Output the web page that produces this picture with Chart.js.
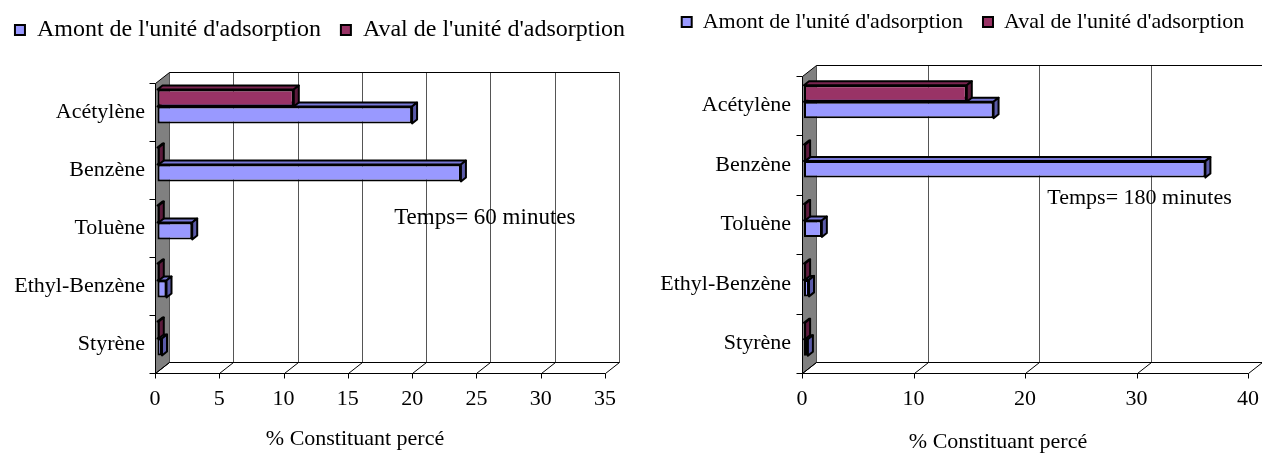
<!DOCTYPE html>
<html>
<head>
<meta charset="utf-8">
<script src="https://cdn.jsdelivr.net/npm/chart.js@4.4.0/dist/chart.umd.min.js"></script>
<style>
    html, body { margin: 0; padding: 0; background: #fff; }
    body { width: 1262px; height: 454px; position: relative; overflow: hidden; }
    .panel { position: absolute; top: 0; height: 454px; }
    #panel60 { left: -20px; width: 680px; }
    #panel180 { left: 636px; width: 654px; }
</style>
</head>
<body>
<div class="panel" id="panel60"><canvas id="chart60"></canvas></div>
<div class="panel" id="panel180"><canvas id="chart180"></canvas></div>
<script>
var categories = ["Acétylène", "Benzène", "Toluène", "Ethyl-Benzène", "Styrène"];
var seriesNames = ["Amont de l'unité d'adsorption", "Aval de l'unité d'adsorption"];

// % perce apres 60 minutes
var amont60 = [19.8, 23.6, 2.7, 0.7, 0.35];
var aval60 = [10.6, 0.1, 0.1, 0.1, 0.1];
var ticks60 = [0, 5, 10, 15, 20, 25, 30, 35];

// % perce apres 180 minutes
var amont180 = [17.0, 36.0, 1.6, 0.45, 0.35];
var aval180 = [14.6, 0.1, 0.1, 0.1, 0.1];
var ticks180 = [0, 10, 20, 30, 40];

var axisTitle = "% Constituant percé";
var SERIF = "'Liberation Serif', 'Times New Roman', serif";

var ChartFrame3D =
{
    id: "frame3d",

    // legend sits higher than Chart.js would put it
    afterLayout: function(chart, args, opts)
    {
        var lg = chart.legend;
        var h = lg.bottom - lg.top;
        lg.top = opts.legendTop;
        lg.bottom = lg.top + h;
    },

    beforeDatasetsDraw: function(chart, args, opts)
    {
        var ctx = chart.ctx, a = chart.chartArea, xs = chart.scales.x;
        var dx = opts.depth[0], dy = opts.depth[1];
        var L = Math.round(a.left) + 0.5, R = Math.round(a.right) + 0.5;
        var T = Math.round(a.top) + 0.5, B = Math.round(a.bottom) + 0.5;

        ctx.save();
        ctx.lineWidth = 1;

        // grey side wall
        ctx.fillStyle = "#808080";
        ctx.strokeStyle = "#000";
        ctx.beginPath();
        ctx.moveTo(L, T);
        ctx.lineTo(L + dx, T + dy);
        ctx.lineTo(L + dx, B + dy);
        ctx.lineTo(L, B);
        ctx.closePath();
        ctx.fill();
        ctx.stroke();

        // back wall grid
        ctx.strokeStyle = "#555";
        xs.ticks.forEach(function(t)
        {
            var px = Math.round(xs.getPixelForValue(t.value)) + 0.5;
            ctx.beginPath();
            ctx.moveTo(px + dx, T + dy);
            ctx.lineTo(px + dx, B + dy);
            ctx.stroke();
        });

        ctx.strokeStyle = "#000";
        ctx.beginPath();
        ctx.moveTo(L + dx, T + dy);
        ctx.lineTo(R + dx, T + dy);
        ctx.moveTo(L + dx, B + dy);
        ctx.lineTo(R + dx, B + dy);
        ctx.moveTo(L, B);
        ctx.lineTo(R, B);
        ctx.stroke();

        // floor diagonals and tick marks
        xs.ticks.forEach(function(t)
        {
            var px = Math.round(xs.getPixelForValue(t.value)) + 0.5;
            ctx.beginPath();
            ctx.moveTo(px, B + 5);
            ctx.lineTo(px, B);
            ctx.lineTo(px + dx, B + dy);
            ctx.stroke();
        });

        // category boundaries on the left edge
        var n = chart.data.labels.length;
        for (var i = 0; i <= n; i++)
        {
            var py = Math.round(a.top + i * (a.bottom - a.top) / n) + 0.5;
            ctx.beginPath();
            ctx.moveTo(L - 6, py);
            ctx.lineTo(L, py);
            ctx.stroke();
        }
        ctx.restore();
    },

    beforeDatasetDraw: function(chart, args, opts)
    {
        chart.ctx.save();
        chart.ctx.translate(opts.shift[0], opts.shift[1]);
    },

    afterDatasetDraw: function(chart, args, opts)
    {
        var ctx = chart.ctx;
        var ds = chart.data.datasets[args.index];
        var ox = opts.barDepth[0], oy = opts.barDepth[1];

        ctx.lineWidth = 2;
        ctx.lineJoin = "round";
        ctx.strokeStyle = "#000";
        args.meta.data.forEach(function(bar)
        {
            var top = bar.y - bar.height / 2, bottom = bar.y + bar.height / 2;
            var x0 = bar.base, x1 = bar.x;

            ctx.fillStyle = ds.topColor;
            ctx.beginPath();
            ctx.moveTo(x0, top);
            ctx.lineTo(x0 + ox, top + oy);
            ctx.lineTo(x1 + ox, top + oy);
            ctx.lineTo(x1, top);
            ctx.closePath();
            ctx.fill();
            ctx.stroke();

            ctx.fillStyle = ds.sideColor;
            ctx.beginPath();
            ctx.moveTo(x1, top);
            ctx.lineTo(x1 + ox, top + oy);
            ctx.lineTo(x1 + ox, bottom + oy);
            ctx.lineTo(x1, bottom);
            ctx.closePath();
            ctx.fill();
            ctx.stroke();
        });
        ctx.restore();
    },

    afterDraw: function(chart, args, opts)
    {
        var ctx = chart.ctx, a = chart.chartArea;
        var xs = chart.scales.x, ys = chart.scales.y;
        ctx.save();
        ctx.fillStyle = "#000";
        ctx.textBaseline = "middle";

        ctx.font = "22px " + SERIF;
        ctx.textAlign = "center";
        ctx.fillText(axisTitle, (a.left + a.right) / 2 + opts.titleShift, opts.titleY);

        ctx.font = opts.noteSize + "px " + SERIF;
        ctx.textAlign = "left";
        ctx.fillText(opts.note, xs.getPixelForValue(opts.notePos[0]), ys.getPixelForValue(opts.notePos[1]));
        ctx.restore();
    }
};

function buildChart(canvasId, amont, aval, ticks, cfg)
{
    var container = document.getElementById(canvasId);
    container.width = cfg.width;
    container.height = 454;

    return new Chart(container, {
        type: "bar",
        plugins: [ChartFrame3D],
        data: {
            labels: categories,
            datasets: [
                {
                    label: seriesNames[1],
                    data: aval,
                    backgroundColor: "#993366",
                    topColor: "#7a2550",
                    sideColor: "#5c1a3c",
                    borderColor: "#000",
                    borderWidth: 2,
                    borderSkipped: false,
                    clip: false
                },
                {
                    label: seriesNames[0],
                    data: amont,
                    backgroundColor: "#9999ff",
                    topColor: "#7777d6",
                    sideColor: "#5a5aa8",
                    borderColor: "#000",
                    borderWidth: 2,
                    borderSkipped: false,
                    clip: false
                }
            ]
        },
        options: {
            indexAxis: "y",
            responsive: false,
            animation: false,
            categoryPercentage: cfg.catPct,
            barPercentage: 1,
            layout: {
                padding: {left: 0, right: 0, top: cfg.padTop, bottom: 0}
            },
            scales: {
                x: {
                    type: "linear",
                    min: ticks[0],
                    max: ticks[ticks.length - 1],
                    grid: {display: false, drawTicks: false},
                    border: {display: false},
                    ticks: {
                        stepSize: ticks[1] - ticks[0],
                        padding: 13,
                        maxRotation: 0,
                        color: "#000",
                        font: {family: SERIF, size: 22}
                    },
                    afterFit: function(scale)
                    {
                        scale.height = 454 - cfg.bottom;
                        scale.paddingLeft = 0;
                        scale.paddingRight = 0;
                    }
                },
                y: {
                    type: "category",
                    grid: {display: false, drawTicks: false},
                    border: {display: false},
                    ticks: {
                        padding: cfg.labelPad,
                        color: "#000",
                        font: {family: SERIF, size: 22}
                    },
                    afterFit: function(scale)
                    {
                        scale.width = cfg.left;
                        scale.paddingTop = 0;
                        scale.paddingBottom = 0;
                    }
                },
                // empty strip on the right, room for the back wall
                gap: {
                    type: "linear",
                    position: "right",
                    display: true,
                    grid: {display: false, drawTicks: false},
                    border: {display: false},
                    ticks: {display: false},
                    afterFit: function(scale)
                    {
                        scale.width = cfg.rightGap;
                        scale.paddingTop = 0;
                        scale.paddingBottom = 0;
                    }
                }
            },
            plugins: {
                legend: {
                    display: true,
                    position: "top",
                    labels: {
                        boxWidth: 10,
                        boxHeight: 10,
                        padding: 20,
                        color: "#000",
                        font: {family: SERIF, size: cfg.legendSize},
                        sort: function(a, b) { return b.datasetIndex - a.datasetIndex; }
                    }
                },
                tooltip: {enabled: false},
                frame3d: {
                    legendTop: cfg.legendTop,
                    depth: [14, -11],
                    shift: cfg.shift,
                    barDepth: [5, -4],
                    titleShift: cfg.titleShift,
                    titleY: cfg.titleY,
                    note: cfg.note,
                    noteSize: cfg.noteSize,
                    notePos: cfg.notePos
                }
            }
        }
    });
}

buildChart("chart60", amont60, aval60, ticks60, {
    width: 680, left: 175, rightGap: 55, padTop: 29, bottom: 373,
    labelPad: 10, catPct: 0.586, shift: [2.5, -5.5],
    legendSize: 24, legendTop: -2, titleShift: -25, titleY: 439,
    note: "Temps= 60 minutes", noteSize: 23, notePos: [18.6, 1.82]
});

buildChart("chart180", amont180, aval180, ticks180, {
    width: 654, left: 166, rightGap: 42, padTop: 24, bottom: 373,
    labelPad: 11, catPct: 0.555, shift: [2, -4],
    legendSize: 22, legendTop: -9, titleShift: -27, titleY: 442,
    note: "Temps= 180 minutes", noteSize: 22, notePos: [22.0, 1.55]
});
</script>
</body>
</html>
